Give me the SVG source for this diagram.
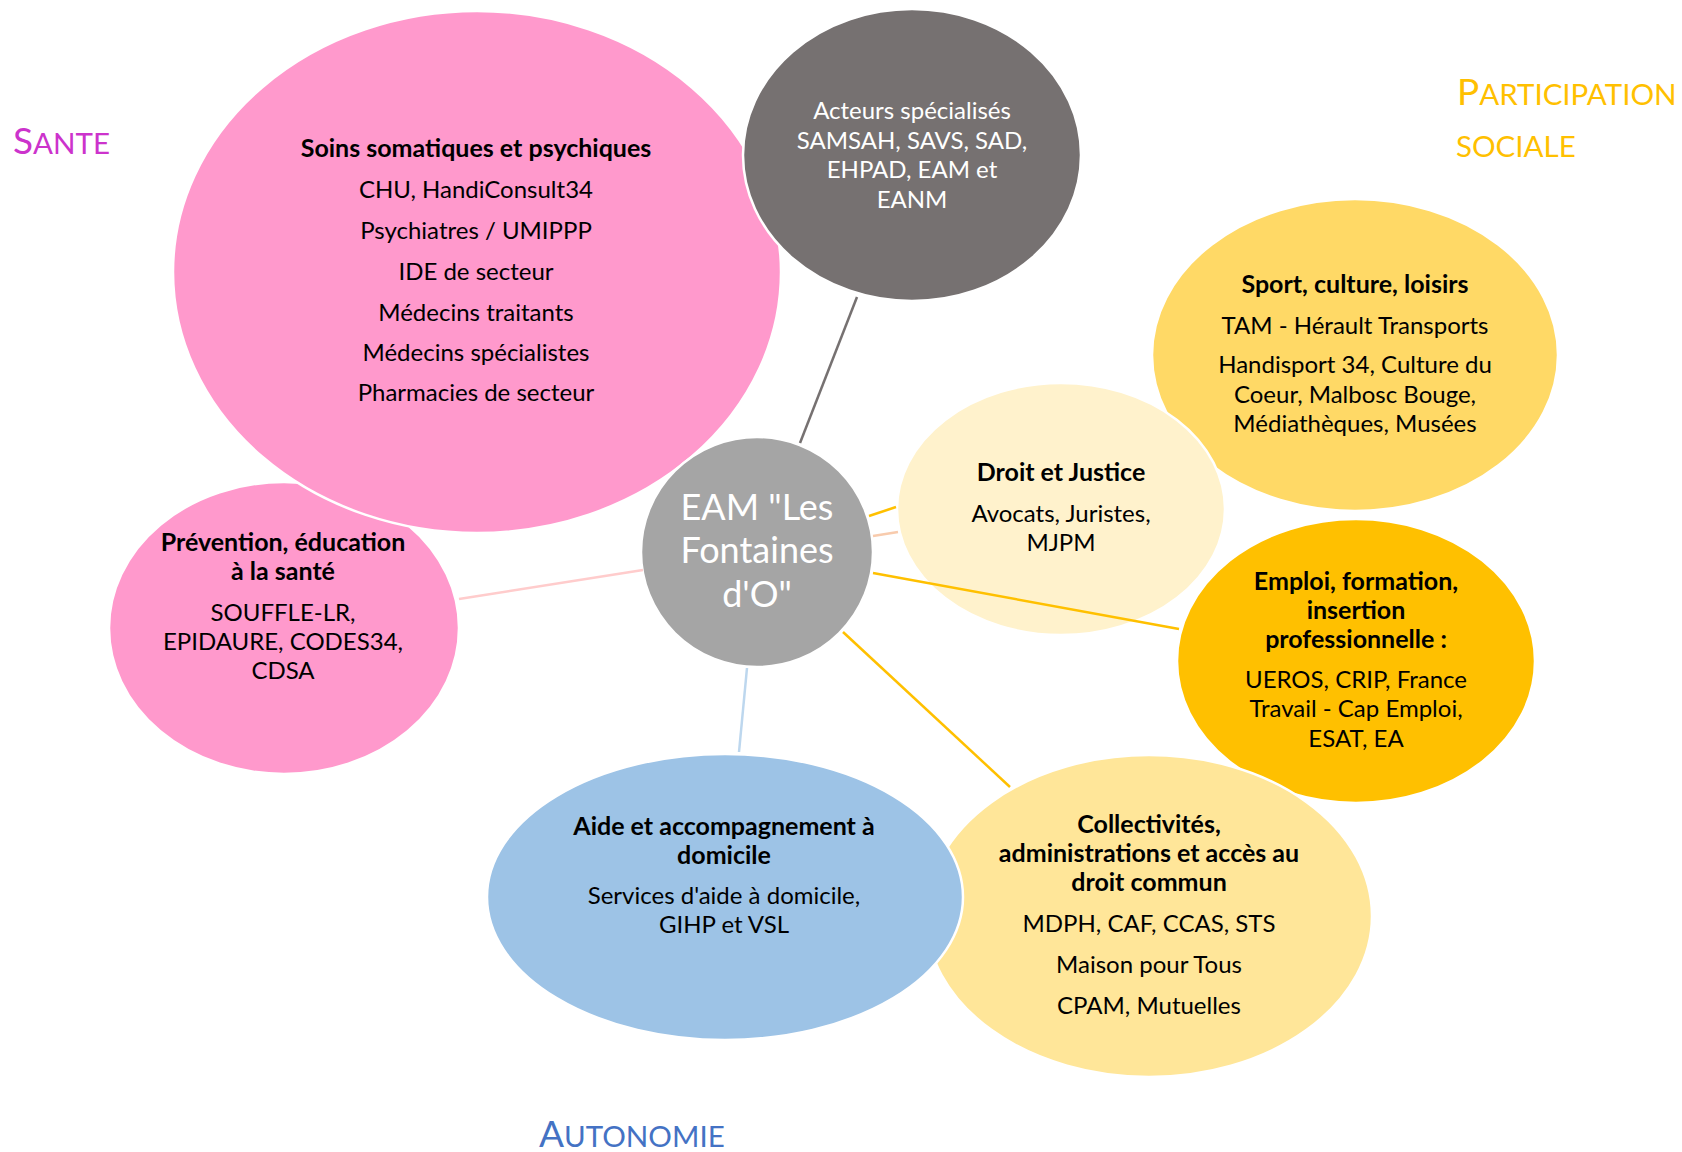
<svg xmlns="http://www.w3.org/2000/svg" width="1682" height="1152" viewBox="0 0 1682 1152">
<style>
  .node { stroke: #FFFFFF; stroke-width: 2.5; }
  .t { font-family: Lato, "Liberation Sans", sans-serif; font-size: 24px; fill: #000000; text-anchor: middle; }
  .b { font-weight: bold; font-size: 25px; }
  .w { fill: #FFFFFF; }
  .center { font-family: Lato, "Liberation Sans", sans-serif; font-size: 36px; fill: #FFFFFF; text-anchor: middle; }
  .cat { font-family: Lato, "Liberation Sans", sans-serif; font-size: 29.5px; }
  .big { font-size: 37px; }
  .ln { stroke-width: 2.5; fill: none; stroke-linecap: butt; }
</style>
<rect x="0" y="0" width="1682" height="1152" fill="#FFFFFF"/>

<g id="node-prevention">
  <ellipse class="node" cx="284" cy="628" rx="175" ry="146" fill="#FF99CC"/>
  <text class="t b" x="283" y="551">Prévention, éducation</text>
  <text class="t b" x="283" y="580">à la santé</text>
  <text class="t" x="283" y="621">SOUFFLE-LR,</text>
  <text class="t" x="283" y="650">EPIDAURE, CODES34,</text>
  <text class="t" x="283" y="679">CDSA</text>
</g>

<g id="node-soins">
  <ellipse class="node" cx="477" cy="272" rx="304" ry="261" fill="#FF99CC"/>
  <text class="t b" x="476" y="157">Soins somatiques et psychiques</text>
  <text class="t" x="476" y="198">CHU, HandiConsult34</text>
  <text class="t" x="476" y="239">Psychiatres / UMIPPP</text>
  <text class="t" x="476" y="280">IDE de secteur</text>
  <text class="t" x="476" y="321">Médecins traitants</text>
  <text class="t" x="476" y="361">Médecins spécialistes</text>
  <text class="t" x="476" y="401">Pharmacies de secteur</text>
</g>

<g id="node-acteurs">
  <ellipse class="node" cx="912" cy="155" rx="169" ry="146" fill="#767171"/>
  <text class="t w" x="912" y="119">Acteurs spécialisés</text>
  <text class="t w" x="912" y="148.5">SAMSAH, SAVS, SAD,</text>
  <text class="t w" x="912" y="178">EHPAD, EAM et</text>
  <text class="t w" x="912" y="207.5">EANM</text>
</g>

<g id="node-center">
  <ellipse class="node" cx="757" cy="552" rx="116" ry="115" fill="#A5A5A5"/>
  <text class="center" x="757" y="520">EAM "Les</text>
  <text class="center" x="757" y="563">Fontaines</text>
  <text class="center" x="757" y="607">d'O"</text>
</g>

<g id="node-sport">
  <ellipse class="node" cx="1355" cy="355" rx="203" ry="156" fill="#FFD966"/>
  <text class="t b" x="1355" y="293">Sport, culture, loisirs</text>
  <text class="t" x="1355" y="334">TAM - Hérault Transports</text>
  <text class="t" x="1355" y="373">Handisport 34, Culture du</text>
  <text class="t" x="1355" y="403">Coeur, Malbosc Bouge,</text>
  <text class="t" x="1355" y="432">Médiathèques, Musées</text>
</g>

<g id="node-droit">
  <ellipse class="node" cx="1061" cy="509" rx="164" ry="126" fill="#FFF2CC"/>
  <text class="t b" x="1061" y="481">Droit et Justice</text>
  <text class="t" x="1061" y="522">Avocats, Juristes,</text>
  <text class="t" x="1061" y="551">MJPM</text>
</g>

<g id="node-emploi">
  <ellipse class="node" cx="1356" cy="661" rx="179" ry="142" fill="#FFC000"/>
  <text class="t b" x="1356" y="590">Emploi, formation,</text>
  <text class="t b" x="1356" y="619">insertion</text>
  <text class="t b" x="1356" y="648">professionnelle :</text>
  <text class="t" x="1356" y="688">UEROS, CRIP, France</text>
  <text class="t" x="1356" y="717">Travail - Cap Emploi,</text>
  <text class="t" x="1356" y="747">ESAT, EA</text>
</g>

<g id="node-collectivites">
  <ellipse class="node" cx="1149" cy="916" rx="223" ry="161" fill="#FFE699"/>
  <text class="t b" x="1149" y="833">Collectivités,</text>
  <text class="t b" x="1149" y="862">administrations et accès au</text>
  <text class="t b" x="1149" y="891">droit commun</text>
  <text class="t" x="1149" y="932">MDPH, CAF, CCAS, STS</text>
  <text class="t" x="1149" y="973">Maison pour Tous</text>
  <text class="t" x="1149" y="1014">CPAM, Mutuelles</text>
</g>

<g id="node-aide">
  <ellipse class="node" cx="725" cy="897" rx="238" ry="143" fill="#9DC3E6"/>
  <text class="t b" x="724" y="835">Aide et accompagnement à</text>
  <text class="t b" x="724" y="864">domicile</text>
  <text class="t" x="724" y="904">Services d'aide à domicile,</text>
  <text class="t" x="724" y="933">GIHP et VSL</text>
</g>

<g id="connectors">
  <line class="ln" x1="800" y1="443" x2="857" y2="297" stroke="#767171"/>
  <line class="ln" x1="643" y1="570" x2="459" y2="599" stroke="#FFCCCC"/>
  <line class="ln" x1="747" y1="668" x2="739" y2="752" stroke="#BDD7EE"/>
  <line class="ln" x1="869" y1="516" x2="896" y2="507" stroke="#FFC000"/>
  <line class="ln" x1="873" y1="536" x2="898" y2="532" stroke="#F8CBAD"/>
  <line class="ln" x1="873" y1="573" x2="1179" y2="629" stroke="#FFC000"/>
  <line class="ln" x1="843" y1="632" x2="1010" y2="787" stroke="#FFC000"/>
</g>

<g id="labels">
  <text class="cat" x="13" y="154" fill="#CC33CC"><tspan class="big">S</tspan>ANTE</text>
  <text class="cat" x="1457" y="105" fill="#FFC000"><tspan class="big">P</tspan>ARTICIPATION</text>
  <text class="cat" x="1456" y="157" fill="#FFC000">SOCIALE</text>
  <text class="cat" x="539" y="1147" fill="#4472C4"><tspan class="big">A</tspan>UTONOMIE</text>
</g>
</svg>
